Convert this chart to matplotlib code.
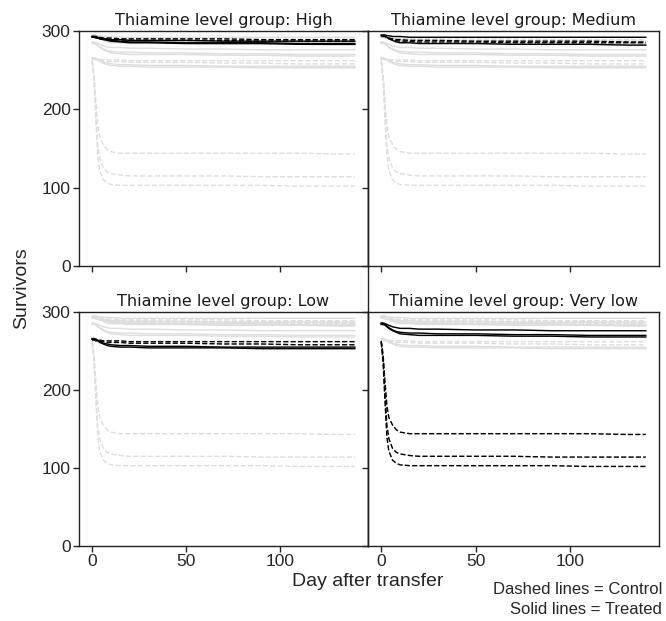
import matplotlib.pyplot as plt
from matplotlib.lines import Line2D

# day after transfer (shared by every tank)
days = [0, 1, 2, 3, 4, 6, 8, 10, 15, 20, 30, 50, 70, 90, 110, 130, 140]

# High thiamine group
high_treated = [
    [293, 293, 292, 291, 290, 289, 288, 287, 286, 285, 285, 284, 284, 284, 283, 283, 283],
    [292, 292, 292, 291, 291, 290, 290, 289, 289, 288, 288, 288, 287, 287, 287, 287, 287],
    [293, 293, 293, 292, 291, 290, 289, 288, 287, 286, 286, 285, 285, 285, 284, 284, 284],
]
high_control = [
    [293, 293, 293, 292, 292, 291, 291, 291, 290, 290, 290, 290, 290, 289, 289, 289, 289],
    [292, 292, 291, 291, 290, 290, 289, 289, 289, 288, 288, 288, 288, 287, 287, 287, 287],
]

# Medium thiamine group
medium_treated = [
    [295, 295, 295, 294, 294, 293, 293, 293, 292, 292, 292, 292, 292, 292, 292, 292, 292],
    [294, 294, 293, 292, 290, 288, 286, 285, 285, 284, 284, 284, 283, 283, 283, 282, 282],
]
medium_control = [
    [294, 294, 293, 292, 291, 289, 288, 287, 287, 286, 286, 286, 285, 285, 285, 285, 285],
    [293, 293, 293, 292, 291, 290, 289, 289, 288, 288, 288, 287, 287, 287, 287, 286, 286],
]

# Low thiamine group
low_treated = [
    [266, 266, 265, 264, 262, 260, 259, 258, 257, 257, 256, 256, 255, 255, 255, 255, 255],
    [265, 265, 264, 263, 261, 259, 257, 256, 255, 255, 254, 254, 254, 253, 253, 253, 253],
]
low_control = [
    [265, 265, 265, 264, 264, 263, 263, 263, 263, 262, 262, 262, 262, 262, 262, 262, 262],
    [264, 264, 263, 263, 262, 262, 261, 261, 261, 260, 260, 260, 259, 259, 258, 258, 258],
]

# Very low thiamine group
verylow_treated = [
    [286, 286, 285, 284, 283, 281, 280, 279, 279, 278, 278, 277, 277, 276, 276, 276, 276],
    [285, 285, 284, 282, 280, 277, 275, 274, 273, 273, 272, 272, 271, 271, 270, 270, 270],
    [284, 284, 283, 281, 279, 276, 274, 272, 271, 270, 270, 270, 269, 269, 268, 268, 268],
]
verylow_control = [
    [263, 245, 210, 180, 165, 155, 149, 146, 144, 144, 144, 144, 144, 144, 144, 143, 143],
    [262, 240, 195, 155, 138, 125, 120, 118, 116, 115, 115, 115, 115, 114, 114, 114, 114],
    [261, 235, 185, 140, 122, 110, 106, 104, 103, 103, 103, 103, 103, 103, 102, 102, 102],
]

group_names = ["High", "Medium", "Low", "Very low"]
groups = {
    "High": (high_treated, high_control),
    "Medium": (medium_treated, medium_control),
    "Low": (low_treated, low_control),
    "Very low": (verylow_treated, verylow_control),
}

text_col = "#262626"
plt.rcParams["font.family"] = ["Liberation Sans", "DejaVu Sans"]

fig = plt.figure(figsize=(6.66, 6.21), dpi=100)

left, mid, right = 79 / 666, 368 / 666, 659 / 666
rows = [(1 - 266 / 621, 1 - 31 / 621), (1 - 546 / 621, 1 - 312 / 621)]
positions = [
    (left, rows[0][0], mid - left, rows[0][1] - rows[0][0]),
    (mid, rows[0][0], right - mid, rows[0][1] - rows[0][0]),
    (left, rows[1][0], mid - left, rows[1][1] - rows[1][0]),
    (mid, rows[1][0], right - mid, rows[1][1] - rows[1][0]),
]

for i, name in enumerate(group_names):
    ax = fig.add_axes(positions[i])

    # every tank in light grey as background
    for other in group_names:
        treated, control = groups[other]
        for s in treated:
            ax.plot(days, s, color="0.87", lw=1.0, ls="-", zorder=1)
        for s in control:
            ax.plot(days, s, color="0.87", lw=1.0, ls="--", zorder=1)

    # this group's tanks in black
    treated, control = groups[name]
    for s in treated:
        ax.plot(days, s, color="black", lw=1.0, ls="-", zorder=3)
    for s in control:
        ax.plot(days, s, color="black", lw=1.0, ls="--", zorder=3)

    ax.set_xlim(-7, 147)
    ax.set_ylim(0, 300)
    ax.set_xticks([0, 50, 100])
    ax.set_yticks([0, 100, 200, 300])
    ax.tick_params(direction="out", length=4, width=1, colors=text_col,
                   labelsize=12.5, labelcolor=text_col, pad=2)
    for sp in ax.spines.values():
        sp.set_color("#222222")
        sp.set_linewidth(1.0)
    if i < 2:
        ax.tick_params(labelbottom=False)
    if i % 2 == 1:
        ax.tick_params(labelleft=False)
    ax.set_title("Thiamine level group: " + name, fontsize=11.5,
                 family="DejaVu Sans", color="#1a1a1a", pad=4)

# divider line between the two columns
fig.add_artist(Line2D([mid, mid], [rows[1][0], rows[0][1]],
                      transform=fig.transFigure, color="#222222", lw=1.0))

fig.text(22 / 666, 1 - 288 / 621, "Survivors", rotation=90, ha="center",
         va="center", fontsize=14, color=text_col)
fig.text(368 / 666, 1 - 581 / 621, "Day after transfer", ha="center",
         va="center", fontsize=14, color=text_col)
fig.text(662 / 666, 1 - 590 / 621, "Dashed lines = Control", ha="right",
         va="center", fontsize=12, color=text_col)
fig.text(662 / 666, 1 - 610 / 621, "Solid lines = Treated", ha="right",
         va="center", fontsize=12, color=text_col)

fig.savefig("out.png", dpi=100)
